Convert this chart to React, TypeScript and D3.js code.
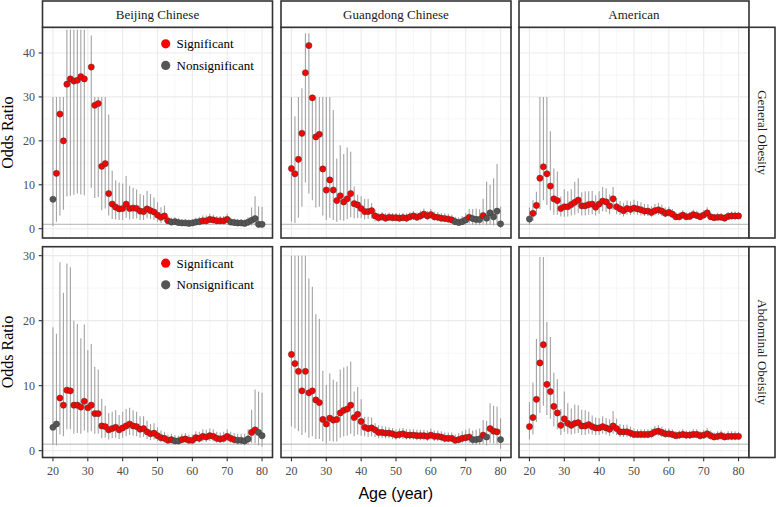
import React from "react";
import * as d3 from "d3";

// ---------- data ----------
const ages = [20,21,22,23,24,25,26,27,28,29,30,31,32,33,34,35,36,37,38,39,40,41,42,43,44,45,46,47,48,49,50,51,52,53,54,55,56,57,58,59,60,61,62,63,64,65,66,67,68,69,70,71,72,73,74,75,76,77,78,79,80];
const colNames = ["Beijing Chinese", "Guangdong Chinese", "American"];
const rowNames = ["General Obesity", "Abdominal Obeisity"];
const xTicks = [20, 30, 40, 50, 60, 70, 80];
const yTicksTop = [0, 10, 20, 30, 40];
const yTicksBottom = [0, 10, 20, 30];
const legendLabels = ["Significant", "Nonsignificant"];

// Beijing, general obesity (age 30 not estimable)
const bjGenOR = [6.7,12.6,26.1,20.0,32.9,34.1,33.6,33.8,34.6,34.1,null,36.8,28.1,28.5,14.2,14.8,8.0,5.6,4.9,4.5,4.6,5.6,4.6,4.7,4.6,4.0,3.9,4.5,4.1,3.8,3.1,2.6,2.9,1.8,1.5,1.6,1.4,1.3,1.3,1.2,1.3,1.5,1.6,1.8,1.8,2.1,2.0,1.8,1.8,1.8,2.1,1.5,1.4,1.3,1.3,1.2,1.5,1.9,2.3,1.0,1.0];
const bjGenLo = [0.6,1.6,3.0,4.3,7.3,7.5,7.7,8.0,7.8,7.6,null,9.3,7.0,7.2,4.2,4.6,3.0,2.2,2.1,2.0,2.0,2.5,2.1,2.2,2.3,2.0,2.0,2.4,2.2,2.0,1.6,1.3,1.6,1.1,0.9,0.9,0.8,0.8,0.8,0.7,0.8,0.9,0.96,1.1,1.1,1.3,1.2,1.1,1.1,1.1,1.3,0.9,0.8,0.8,0.7,0.7,0.6,0.7,0.8,0.2,0.2];
const bjGenHi = [30,30,30,30,45.3,45.3,45.3,45.3,45.3,45.3,null,44.0,30,30,30,30,26.0,13.2,11.0,10.5,10.3,12.0,9.8,9.3,8.9,7.9,7.6,8.6,7.9,7.1,6.0,4.9,5.3,2.9,2.5,2.6,2.4,2.2,2.2,2.1,2.2,2.5,2.7,3.0,3.0,3.4,3.2,2.9,2.9,2.9,3.4,2.5,2.3,2.2,2.2,2.1,2.6,4.8,7.4,5.1,5.0];
const bjGenSig = [0,1,1,1,1,1,1,1,1,1,1,1,1,1,1,1,1,1,1,1,1,1,1,1,1,1,1,1,1,1,1,1,1,1,0,0,0,0,0,0,0,0,0,1,1,1,1,1,1,1,1,0,0,0,0,0,0,0,0,0,0];

// Guangdong, general obesity
const gdGenOR = [13.7,12.5,15.8,21.7,35.5,41.7,29.8,20.9,21.5,13.6,8.8,11.1,8.8,6.4,7.5,6.1,6.8,8.0,5.7,5.4,4.6,3.9,3.9,4.1,2.9,2.5,2.7,2.4,2.6,2.5,2.5,2.4,2.5,2.4,2.7,2.9,2.6,2.9,3.3,2.9,3.2,2.7,2.6,2.4,2.3,2.2,2.0,1.6,1.4,1.6,2.0,2.6,2.3,2.1,2.1,3.0,2.4,3.6,2.7,4.0,1.1];
const gdGenLo = [1.6,1.3,2.5,5.0,10.5,8.0,6.5,4.8,5.0,3.0,2.0,2.5,2.0,1.6,2.0,1.8,2.2,2.6,2.3,2.4,2.4,2.1,2.2,2.3,1.7,1.6,1.8,1.6,1.8,1.7,1.7,1.6,1.7,1.6,1.8,2.0,1.8,2.0,2.3,2.0,2.2,1.8,1.7,1.6,1.5,1.4,1.2,0.9,0.8,0.9,0.98,1.2,0.9,0.8,0.8,1.1,0.8,0.9,0.7,0.8,0.2];
const gdGenHi = [30,25.6,30,32,44.5,44.5,30,30,30,30,30,30,27,16,19,17,18.5,17.5,9.6,7.7,7.4,6.8,6.8,5.8,4.3,3.6,3.8,3.5,3.7,3.6,3.6,3.5,3.6,3.5,3.8,4.0,3.7,4.1,4.6,4.1,4.5,3.9,3.8,3.6,3.5,3.4,3.2,2.7,2.6,2.9,3.6,4.5,4.5,4.6,4.4,6.8,10.7,10.0,11.5,14.7,5.0];
const gdGenSig = [1,1,1,1,1,1,1,1,1,1,1,1,1,1,1,1,1,1,1,1,1,1,1,1,1,1,1,1,1,1,1,1,1,1,1,1,1,1,1,1,1,1,1,1,1,1,1,0,0,0,0,1,0,0,0,1,0,0,0,0,0];

// American, general obesity
const usGenOR = [2.2,3.5,5.3,11.5,14.1,12.5,9.7,6.8,6.4,4.6,5.0,5.0,5.5,6.0,6.5,5.2,5.2,5.5,5.6,4.9,5.6,6.3,6.1,5.2,6.8,5.0,4.5,4.1,4.6,4.4,4.7,4.5,4.3,4.0,4.0,3.7,4.1,4.3,4.0,3.5,3.7,3.3,2.7,2.7,3.1,2.7,2.8,3.2,3.0,2.7,3.1,3.6,2.7,2.5,2.6,2.6,2.4,2.8,2.9,2.9,2.9];
const usGenLo = [0.9,1.8,3.1,4.5,6.5,5.4,4.2,3.2,3.2,2.8,2.7,2.8,3.0,3.2,3.5,3.0,3.0,3.2,3.3,3.0,3.4,3.9,3.8,3.3,4.3,3.3,3.1,2.8,3.2,3.1,3.3,3.2,3.0,2.9,2.9,2.7,3.0,3.1,2.9,2.6,2.7,2.4,2.0,2.0,2.3,2.0,2.1,2.4,2.2,2.0,2.3,2.6,2.0,1.8,1.9,1.9,1.7,2.0,2.1,2.1,2.2];
const usGenHi = [4.8,6.5,8.4,30,30,30,22.2,13.7,13.0,7.3,9.0,8.5,9.0,10.7,11.5,8.3,8.5,8.5,8.6,7.6,8.5,9.5,9.2,7.8,9.5,7.0,6.3,5.9,6.4,6.2,6.6,6.3,6.0,5.6,5.6,5.1,5.6,5.9,5.5,4.8,5.0,4.5,3.7,3.7,4.2,3.7,3.8,4.3,4.1,3.7,4.2,4.9,3.7,3.4,3.6,3.6,3.3,3.8,3.9,3.9,3.8];
const usGenSig = [0,1,1,1,1,1,1,1,1,1,1,1,1,1,1,1,1,1,1,1,1,1,1,1,1,1,1,1,1,1,1,1,1,1,1,1,1,1,1,1,1,1,1,1,1,1,1,1,1,1,1,1,1,1,1,1,1,1,1,1,1];

// Beijing, abdominal obesity
const bjAbdOR = [3.6,4.1,8.1,7.0,9.3,9.2,7.0,7.0,6.7,7.6,6.6,7.0,5.7,5.7,3.8,3.7,3.2,3.4,3.6,3.2,3.5,3.8,4.1,3.8,3.7,3.3,3.4,2.9,2.6,2.7,2.3,2.0,1.9,1.6,1.7,1.5,1.5,1.7,1.8,1.6,1.6,2.0,1.9,2.2,2.1,2.3,2.2,1.9,1.8,1.9,2.2,1.9,1.7,1.6,1.6,1.5,1.8,2.8,3.2,2.8,2.3];
const bjAbdLo = [0.9,0.8,2.5,2.2,3.3,3.3,2.6,2.7,2.6,3.1,2.8,3.0,2.6,2.6,1.9,2.0,1.7,1.9,2.0,1.8,2.0,2.2,2.4,2.3,2.2,2.0,2.1,1.8,1.6,1.7,1.5,1.3,1.2,1.05,1.1,0.97,0.96,1.1,1.2,1.05,1.05,1.3,1.25,1.4,1.35,1.5,1.4,1.2,1.15,1.2,1.4,1.2,1.05,0.95,0.9,0.85,0.9,1.2,1.1,0.8,0.6];
const bjAbdHi = [19.0,18.0,29.0,24.3,28.8,28.2,20.0,19.5,17.3,19.4,15.5,16.4,12.9,12.5,8.0,6.9,5.8,6.0,6.2,5.5,6.0,6.4,6.6,6.2,6.0,5.3,5.3,4.6,4.1,4.2,3.6,3.1,2.9,2.5,2.6,2.4,2.3,2.6,2.7,2.5,2.5,3.0,2.9,3.3,3.2,3.4,3.3,2.9,2.8,2.9,3.3,2.9,2.7,2.6,2.6,2.6,3.3,6.3,9.4,9.1,8.9];
const bjAbdSig = [0,0,1,1,1,1,1,1,1,1,1,1,1,1,1,1,1,1,1,1,1,1,1,1,1,1,1,1,1,1,1,1,1,1,1,0,0,1,1,1,1,1,1,1,1,1,1,1,1,1,1,1,1,0,0,0,0,1,1,0,0];

// Guangdong, abdominal obesity
const gdAbdOR = [14.8,13.4,12.2,9.2,12.2,8.9,9.2,7.8,7.4,4.8,4.1,5.0,4.7,4.8,5.8,6.2,6.4,7.0,5.1,5.6,4.5,3.6,3.4,3.5,3.2,2.8,2.8,2.7,2.7,2.6,2.4,2.5,2.6,2.4,2.4,2.4,2.3,2.3,2.3,2.2,2.4,2.2,2.2,2.1,1.9,1.9,1.9,1.6,1.7,1.9,2.0,2.1,1.7,1.7,1.8,2.4,2.1,3.4,3.0,2.9,1.7];
const gdAbdLo = [3.7,3.4,3.0,2.4,2.8,2.0,2.2,1.8,1.8,1.4,1.1,1.5,1.4,1.4,2.0,2.2,2.3,2.6,2.2,2.5,2.3,2.2,2.1,2.2,2.1,1.9,1.9,1.9,1.9,1.8,1.7,1.8,1.8,1.7,1.7,1.7,1.6,1.6,1.6,1.5,1.7,1.5,1.5,1.4,1.3,1.3,1.3,1.05,1.1,1.2,1.2,1.2,0.9,0.9,0.9,1.05,0.8,1.2,1.1,1.05,0.3];
const gdAbdHi = [30,30,30,30,30,26.5,25.2,21.0,20.3,12.3,10.1,11.9,10.9,10.6,12.5,12.8,13.0,13.7,9.1,9.8,7.9,5.2,5.2,5.1,4.2,3.9,3.8,3.7,3.6,3.5,3.3,3.4,3.5,3.3,3.3,3.3,3.2,3.2,3.2,3.1,3.4,3.1,3.1,3.0,2.8,2.8,2.8,2.5,2.7,3.0,3.2,3.4,3.1,3.2,3.4,4.7,4.6,7.3,6.9,6.8,5.0];
const gdAbdSig = [1,1,1,1,1,1,1,1,1,1,1,1,1,1,1,1,1,1,1,1,1,1,1,1,1,1,1,1,1,1,1,1,1,1,1,1,1,1,1,1,1,1,1,1,1,1,1,1,1,1,1,1,0,0,0,1,0,1,1,1,0];

// American, abdominal obesity
const usAbdOR = [3.7,5.1,7.9,13.5,16.3,10.2,9.1,6.8,5.8,3.9,4.9,4.2,3.9,4.2,4.3,3.8,3.8,4.0,3.7,3.5,3.5,3.7,3.5,3.3,3.8,3.4,2.9,2.9,2.9,2.7,2.5,2.5,2.5,2.5,2.5,2.6,2.9,3.0,2.8,2.6,2.6,2.5,2.3,2.4,2.5,2.4,2.4,2.5,2.5,2.3,2.4,2.6,2.3,2.1,2.2,2.3,2.1,2.2,2.2,2.2,2.2];
const usAbdLo = [1.7,2.5,4.4,5.8,6.9,5.5,4.9,3.7,3.3,2.4,2.9,2.6,2.5,2.6,2.7,2.4,2.4,2.6,2.5,2.4,2.4,2.6,2.5,2.3,2.6,2.4,2.1,2.1,2.1,2.0,1.9,1.9,1.9,1.9,1.9,2.0,2.2,2.3,2.1,2.0,2.0,1.9,1.8,1.8,1.9,1.8,1.8,1.9,1.9,1.7,1.8,1.9,1.7,1.6,1.6,1.7,1.6,1.6,1.6,1.6,1.7];
const usAbdHi = [7.5,10.5,17.2,29.8,29.8,19.8,17.5,12.0,11.0,6.4,9.1,7.3,6.5,7.1,7.0,6.3,6.2,6.0,5.4,5.1,5.0,5.3,5.0,4.8,6.1,4.9,4.1,4.0,4.0,3.7,3.4,3.3,3.3,3.3,3.3,3.4,3.8,3.9,3.7,3.4,3.4,3.3,3.0,3.1,3.3,3.1,3.1,3.3,3.3,3.0,3.2,3.5,3.1,2.8,3.0,3.1,2.8,3.0,3.0,3.0,2.9];
const usAbdSig = [1,1,1,1,1,1,1,1,1,1,1,1,1,1,1,1,1,1,1,1,1,1,1,1,1,1,1,1,1,1,1,1,1,1,1,1,1,1,1,1,1,1,1,1,1,1,1,1,1,1,1,1,1,1,1,1,1,1,1,1,1];

const panels = [
  { row: 0, col: 0, or: bjGenOR, lo: bjGenLo, hi: bjGenHi, sig: bjGenSig, legend: true },
  { row: 0, col: 1, or: gdGenOR, lo: gdGenLo, hi: gdGenHi, sig: gdGenSig, legend: false },
  { row: 0, col: 2, or: usGenOR, lo: usGenLo, hi: usGenHi, sig: usGenSig, legend: false },
  { row: 1, col: 0, or: bjAbdOR, lo: bjAbdLo, hi: bjAbdHi, sig: bjAbdSig, legend: true },
  { row: 1, col: 1, or: gdAbdOR, lo: gdAbdLo, hi: gdAbdHi, sig: gdAbdSig, legend: false },
  { row: 1, col: 2, or: usAbdOR, lo: usAbdLo, hi: usAbdHi, sig: usAbdSig, legend: false },
];

// ---------- layout ----------
const W = 777, H = 507;
const colX = [42.5, 281, 519];
const panelW = 230;
const rowY = [[27.3, 238], [246.7, 457.5]];
const stripTop = 1;
const stripRight = 775;
const SERIF = "'Liberation Serif', 'Times New Roman', serif";
const SANS = "'Liberation Sans', Arial, sans-serif";
const RED = "#FF0000";
const GREY_PT = "#555555";
const ERR = "#A3A3A3";
const BORDER = "#333333";

const yDomains = [[-2.12, 45.85], [-1.05, 31.38]];
const yTicksByRow = [yTicksTop, yTicksBottom];

export default function App() {
  const xScales = colX.map((x0) => d3.scaleLinear().domain([17, 83]).range([x0, x0 + panelW]));
  const yScales = rowY.map((r, i) => d3.scaleLinear().domain(yDomains[i]).range([r[1], r[0]]));

  const xMinor = [25, 35, 45, 55, 65, 75];
  const yMinorByRow = [[5, 15, 25, 35, 45], [5, 15, 25]];

  return (
    <svg width={W} height={H} style={{ position: "absolute", left: 0, top: 0, background: "#fff" }}>
      <rect x={0} y={0} width={W} height={H} fill="#fff" />
      {panels.map((p, pi) => {
        const xs = xScales[p.col];
        const ys = yScales[p.row];
        const [y0, y1] = rowY[p.row];
        const x0 = colX[p.col];
        const x1 = x0 + panelW;
        const clipId = `clip${pi}`;
        return (
          <g key={pi}>
            <defs>
              <clipPath id={clipId}>
                <rect x={x0} y={y0} width={panelW} height={y1 - y0} />
              </clipPath>
            </defs>
            {/* grid */}
            {xMinor.map((v) => (
              <line key={"xm" + v} x1={xs(v)} x2={xs(v)} y1={y0} y2={y1} stroke="#F2F2F2" strokeWidth={0.6} />
            ))}
            {yMinorByRow[p.row].map((v) => (
              <line key={"ym" + v} x1={x0} x2={x1} y1={ys(v)} y2={ys(v)} stroke="#F2F2F2" strokeWidth={0.6} />
            ))}
            {xTicks.map((v) => (
              <line key={"xg" + v} x1={xs(v)} x2={xs(v)} y1={y0} y2={y1} stroke="#EBEBEB" strokeWidth={1.1} />
            ))}
            {yTicksByRow[p.row].map((v) => (
              <line key={"yg" + v} x1={x0} x2={x1} y1={ys(v)} y2={ys(v)} stroke="#EBEBEB" strokeWidth={1.1} />
            ))}
            {/* reference line at OR = 1 */}
            <line x1={x0} x2={x1} y1={ys(1)} y2={ys(1)} stroke="#A8A8A8" strokeWidth={0.9} />
            <g clipPath={`url(#${clipId})`}>
              {ages.map((a, i) =>
                p.lo[i] == null ? null : (
                  <line key={"e" + a} x1={xs(a)} x2={xs(a)} y1={ys(p.lo[i] as number)} y2={ys(p.hi[i] as number)} stroke={ERR} strokeWidth={1.1} />
                )
              )}
              {ages.map((a, i) =>
                p.or[i] == null ? null : (
                  <circle key={"p" + a} cx={xs(a)} cy={ys(p.or[i] as number)} r={3.1}
                    fill={p.sig[i] ? RED : GREY_PT} stroke="#3a3a3a" strokeWidth={0.5} />
                )
              )}
            </g>
            {p.legend && (
              <g>
                {legendLabels.map((lab, li) => {
                  const ly = y0 + 16.5 + li * 21.6;
                  return (
                    <g key={lab}>
                      <circle cx={165.7} cy={ly} r={4.6} fill={li === 0 ? RED : GREY_PT} />
                      <text x={176.5} y={ly + 4.4} fontFamily={SERIF} fontSize={13} fill="#000">{lab}</text>
                    </g>
                  );
                })}
              </g>
            )}
            <rect x={x0} y={y0} width={panelW} height={y1 - y0} fill="none" stroke={BORDER} strokeWidth={1.6} />
          </g>
        );
      })}

      {/* top strips */}
      {colNames.map((name, ci) => (
        <g key={name}>
          <rect x={colX[ci]} y={stripTop} width={panelW} height={rowY[0][0] - stripTop} fill="#fff" stroke={BORDER} strokeWidth={1.6} />
          <text x={colX[ci] + panelW / 2} y={18.5} textAnchor="middle" fontFamily={SERIF} fontSize={13} fill="#1A1A1A">{name}</text>
        </g>
      ))}
      {/* right strips */}
      {rowNames.map((name, ri) => {
        const [y0, y1] = rowY[ri];
        const sx = colX[2] + panelW;
        const cy = (y0 + y1) / 2;
        const cx = (sx + stripRight) / 2;
        return (
          <g key={name}>
            <rect x={sx} y={y0} width={stripRight - sx} height={y1 - y0} fill="#fff" stroke={BORDER} strokeWidth={1.6} />
            <text transform={`translate(${cx},${cy}) rotate(90)`} textAnchor="middle" dominantBaseline="central"
              fontFamily={SERIF} fontSize={13} fill="#1A1A1A">{name}</text>
          </g>
        );
      })}

      {/* y axes */}
      {rowY.map((r, ri) => (
        <g key={"ya" + ri}>
          {yTicksByRow[ri].map((v) => (
            <g key={v}>
              <line x1={colX[0] - 3.8} x2={colX[0]} y1={yScales[ri](v)} y2={yScales[ri](v)} stroke={BORDER} strokeWidth={1.1} />
              <text x={colX[0] - 7.5} y={yScales[ri](v) + 4.2} textAnchor="end" fontFamily={SERIF} fontSize={12} fill="#4D4D4D">{v}</text>
            </g>
          ))}
          <text transform={`translate(13.3,${(r[0] + r[1]) / 2}) rotate(-90)`} textAnchor="middle"
            fontFamily={SERIF} fontSize={16} fill="#000">Odds Ratio</text>
        </g>
      ))}

      {/* x axes */}
      {colX.map((x0, ci) => (
        <g key={"xa" + ci}>
          {xTicks.map((v) => (
            <g key={v}>
              <line x1={xScales[ci](v)} x2={xScales[ci](v)} y1={rowY[1][1]} y2={rowY[1][1] + 3.8} stroke={BORDER} strokeWidth={1.1} />
              <text x={xScales[ci](v)} y={474.5} textAnchor="middle" fontFamily={SERIF} fontSize={12} fill="#4D4D4D">{v}</text>
            </g>
          ))}
        </g>
      ))}
      <text x={(colX[0] + colX[2] + panelW) / 2} y={499} textAnchor="middle" fontFamily={SANS} fontSize={16} fill="#000">Age (year)</text>
    </svg>
  );
}
